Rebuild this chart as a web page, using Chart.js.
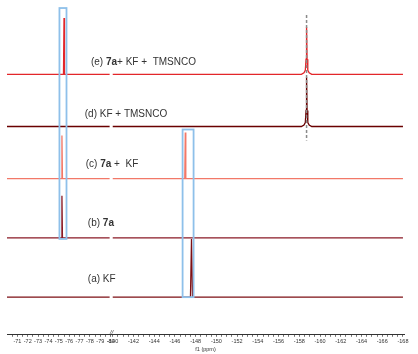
<!DOCTYPE html>
<html><head><meta charset="utf-8">
<script src="https://cdn.jsdelivr.net/npm/chart.js@4.4.1/dist/chart.umd.min.js"></script>
<style>html,body{margin:0;padding:0;background:#fff}</style>
</head><body>
<canvas id="c" width="418" height="354" style="width:418px;height:354px"></canvas>
<script>
// ---------- DATA ----------
// chemical shifts in ppm, intensities in arbitrary units; null = axis break
const aPpm = [-70, -79.9, null, -140, -147.5, -147.6, -147.7, -168];
const aInt = [0, 0, null, 0, 0, 58, 0, 0];
const bPpm = [-70, -75.25, -75.3, -75.35, -79.9, null, -140, -168];
const bInt = [0, 0, 42, 0, 0, null, 0, 0];
const cPpm = [-70, -75.25, -75.3, -75.35, -79.9, null, -140, -146.95, -147.0, -147.05, -168];
const cInt = [0, 0, 43, 0, 0, null, 0, 0, 46, 0, 0];
const dPpm = [-70, -79.9, null, -140, -158.2, -158.45, -158.58, -158.65, -158.7, -158.75, -158.82, -158.95, -159.2, -168];
const dInt = [0, 0, null, 0, 0, 1.5, 4, 16, 49, 16, 4, 1.5, 0, 0];
const ePpm = [-70, -75.45, -75.5, -75.55, -79.9, null, -140, -158.2, -158.45, -158.58, -158.65, -158.7, -158.75, -158.82, -158.95, -159.2, -168];
const eInt = [0, 0, 56, 0, 0, null, 0, 0, 1.5, 4, 15, 47, 15, 4, 1.5, 0, 0];

const traceLabels = ['(a) KF', '(b) **7a**', '(c) **7a** +  KF', '(d) KF + TMSNCO', '(e) **7a**+ KF +  TMSNCO'];
const leftTickLabels = [-71, -72, -73, -74, -75, -76, -77, -78, -79, -80];
const rightTickLabels = [-140, -142, -144, -146, -148, -150, -152, -154, -156, -158, -160, -162, -164, -166, -168];

// ---------- LAYOUT / STYLE ----------
const traceColors = ['#7d0f14', '#8a1a26', '#f27868', '#6a0000', '#e3262a'];
const traceOffsets = [37, 96, 155, 207, 259];
const labelPos = [[-77.8, 18], [-77.8, 15], [-77.6, 14], [-77.5, 12], [-78.1, 12]];
const boxes = [[-75.06, -75.74, 95, 325], [-146.74, -147.8, 37, 204]];
const dashLine = [-158.7, 193, 318];

// broken axis: left segment -70..-80, right segment -140..-168
const BREAK_GAP = 0.2;
function toAxis(ppm) { return ppm >= -100 ? -ppm : (-ppm - 140) + 80 + BREAK_GAP; }

function build(ppm, ints, off) {
  return ppm.map((p, i) => p === null ? { x: 80 + BREAK_GAP / 2, y: null } : { x: toAxis(p), y: off + ints[i] });
}
const series = [[aPpm, aInt], [bPpm, bInt], [cPpm, cInt], [dPpm, dInt], [ePpm, eInt]];

// tick positions every 0.5 ppm
const tickMap = new Map();
for (let p = -70.5; p >= -80; p -= 0.5) tickMap.set(toAxis(p).toFixed(2), '');
for (let p = -140; p >= -168; p -= 0.5) tickMap.set(toAxis(p).toFixed(2), '');
leftTickLabels.forEach(v => tickMap.set(toAxis(v).toFixed(2), String(v)));
rightTickLabels.forEach(v => tickMap.set(toAxis(v).toFixed(2), String(v)));
const tickVals = [...tickMap.keys()].map(Number).sort((a, b) => a - b);

const overlay = {
  id: 'overlay',
  afterDatasetsDraw(chart) {
    const ctx = chart.ctx, xs = chart.scales.x, ys = chart.scales.y;
    ctx.save();
    // blue boxes
    ctx.strokeStyle = '#8ec0ea'; ctx.lineWidth = 1.8;
    boxes.forEach(b => {
      const x1 = xs.getPixelForValue(toAxis(b[0])), x2 = xs.getPixelForValue(toAxis(b[1]));
      const y1 = ys.getPixelForValue(b[3]), y2 = ys.getPixelForValue(b[2]);
      ctx.strokeRect(x1, y1, x2 - x1, y2 - y1);
    });
    // dashed reference line
    ctx.strokeStyle = '#8a8a8a'; ctx.lineWidth = 1.5; ctx.setLineDash([3, 2]);
    const dx = xs.getPixelForValue(toAxis(dashLine[0]));
    ctx.beginPath(); ctx.moveTo(dx, ys.getPixelForValue(dashLine[2])); ctx.lineTo(dx, ys.getPixelForValue(dashLine[1])); ctx.stroke();
    ctx.setLineDash([]);
    // labels
    ctx.fillStyle = '#333'; ctx.textBaseline = 'middle';
    traceLabels.forEach((t, i) => {
      let x = xs.getPixelForValue(toAxis(labelPos[i][0]));
      const y = ys.getPixelForValue(traceOffsets[i] + labelPos[i][1]);
      t.split('**').forEach((seg, k) => {
        ctx.font = (k % 2 ? 'bold ' : '') + '10px "Liberation Sans", Arial, sans-serif';
        ctx.fillText(seg, x, y);
        x += ctx.measureText(seg).width;
      });
    });
    // axis break mark
    const bx = xs.getPixelForValue(80 + BREAK_GAP / 2), by = chart.chartArea.bottom;
    ctx.font = 'italic 6px "Liberation Sans", Arial, sans-serif';
    ctx.textAlign = 'center'; ctx.textBaseline = 'bottom';
    ctx.fillText('//', bx, by + 1);
    ctx.restore();
  }
};

new Chart(document.getElementById('c'), {
  type: 'line',
  data: {
    datasets: series.map((s, i) => ({
      data: build(s[0], s[1], traceOffsets[i]),
      borderColor: traceColors[i], borderWidth: 1.3, pointRadius: 0, tension: 0, spanGaps: false, fill: false
    }))
  },
  options: {
    responsive: false, animation: false, devicePixelRatio: 1,
    layout: { padding: { left: 7, right: 14, top: 0, bottom: 1 } },
    plugins: { legend: { display: false }, tooltip: { enabled: false } },
    scales: {
      x: {
        type: 'linear', min: 70, max: 108.3,
        afterBuildTicks: s => { s.ticks = tickVals.map(v => ({ value: v })); },
        ticks: {
          autoSkip: false, maxRotation: 0, minRotation: 0, padding: 1, color: '#333',
          font: { size: 5.5, family: '"Liberation Sans", Arial, sans-serif' },
          callback: v => tickMap.get(Number(v).toFixed(2)) || ''
        },
        grid: { display: true, drawOnChartArea: false, drawTicks: true, tickLength: 2.5, tickColor: '#333', tickWidth: 0.7 },
        border: { display: true, color: '#333', width: 1 },
        title: { display: true, text: 'f1 (ppm)', color: '#333', font: { size: 5.5, family: '"Liberation Sans", Arial, sans-serif' }, padding: { top: 1, bottom: 0 } }
      },
      y: { type: 'linear', display: false, min: 0, max: 333 }
    }
  },
  plugins: [overlay]
});
</script>
</body></html>
